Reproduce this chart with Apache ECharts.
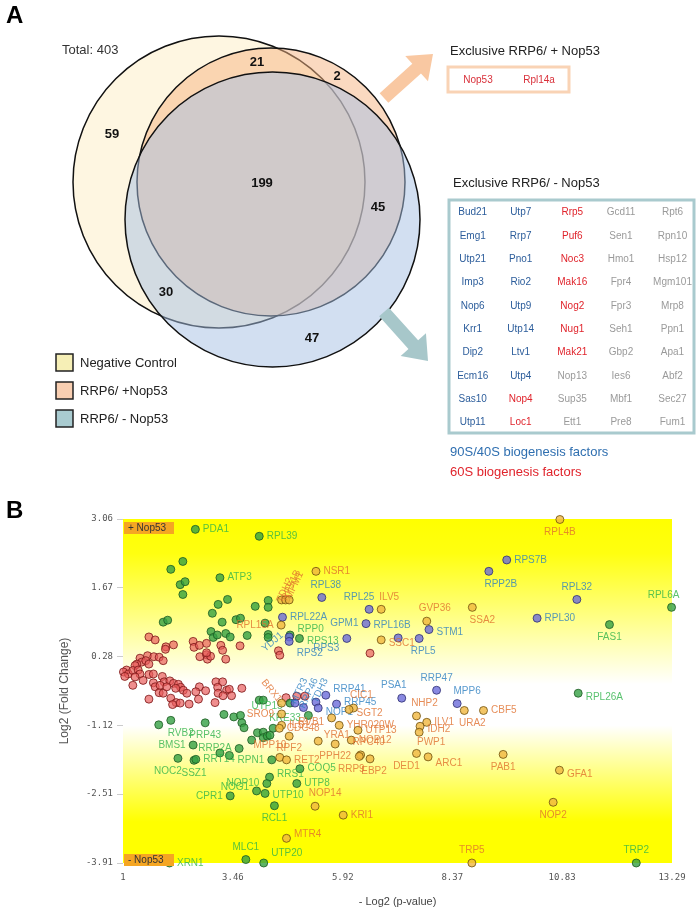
<!DOCTYPE html>
<html><head><meta charset="utf-8">
<script src="https://cdn.jsdelivr.net/npm/echarts@6/dist/echarts.min.js"></script>
<style>html,body{margin:0;padding:0;background:#fff}#c{width:696px;height:908px}</style>
</head><body><div id="c"></div>
<script>
// ---------- Panel A data ----------
const vennTotal = 403;
const vennLabels = ['21','2','59','199','45','30','47'];
const vennLegend = ['Negative Control','RRP6/ +Nop53','RRP6/ - Nop53'];
const plusNop53Genes = ['Nop53','Rpl14a'];
const minusNop53Cols = [
  ['Bud21','Emg1','Utp21','Imp3','Nop6','Krr1','Dip2','Ecm16','Sas10','Utp11'],
  ['Utp7','Rrp7','Pno1','Rio2','Utp9','Utp14','Ltv1','Utp4','Nop4','Loc1'],
  ['Rrp5','Puf6','Noc3','Mak16','Nog2','Nug1','Mak21','Nop13','Sup35','Ett1'],
  ['Gcd11','Sen1','Hmo1','Fpr4','Fpr3','Seh1','Gbp2','Ies6','Mbf1','Pre8'],
  ['Rpt6','Rpn10','Hsp12','Mgm101','Mrp8','Ppn1','Apa1','Abf2','Sec27','Fum1']
];
const minusNop53Class = [
  'bbbbbbbbbb',
  'bbbbbbbbrr',
  'rrrrrrrggg',
  'gggggggggg',
  'gggggggggg'
];
const classLegend = ['90S/40S biogenesis factors','60S biogenesis factors'];

// ---------- Panel B data ----------
const xTicks = [1, 3.46, 5.92, 8.37, 10.83, 13.29];
const yTicks = [-3.91, -2.51, -1.12, 0.28, 1.67, 3.06];

const greenPoints = [
 ['PDA1',2.62,2.85],['RPL39',4.05,2.71],['ATP3',3.17,1.87],['RPP0',4.74,0.71],['RPS13',4.95,0.64],
 ['RVB2',2.07,-1.02],['PRP43',2.84,-1.07],['BMS1',2.57,-1.52],['NOC2',2.23,-1.79],['SSZ1',2.59,-1.83],
 ['RRT14',2.63,-1.81],['RRP2A',3.60,-1.59],['RPN1',4.33,-1.82],['COQ5',4.96,-2.00],['RRS1',4.28,-2.17],
 ['NOP10',4.22,-2.30],['UTP8',4.89,-2.30],['NOG1',3.99,-2.45],['UTP10',4.18,-2.50],['CPR1',3.40,-2.55],
 ['RCL1',4.39,-2.75],['XRN1',2.04,-3.91],['MLC1',3.75,-3.84],['UTP20',4.15,-3.91],['TRP2',12.49,-3.91],
 ['FAS1',11.89,0.92],['RPL6A',13.28,1.27],['RPL26A',11.19,-0.47],['UTP15',4.74,-0.67],['KRE33',5.15,-0.92],
 ['',2.34,2.20],['',2.07,2.04],['',2.28,1.73],['',2.39,1.79],['',2.34,1.53],['',1.90,0.97],['',2.00,1.01],
 ['',3.34,1.43],['',3.13,1.33],['',3.00,1.15],['',3.22,0.97],['',2.97,0.78],['',3.02,0.66],['',3.11,0.71],
 ['',3.30,0.74],['',3.53,1.02],['',3.63,1.05],['',3.96,1.29],['',4.25,1.41],['',4.25,1.27],['',4.18,0.95],
 ['',3.40,0.67],['',3.78,0.70],['',4.25,0.72],['',4.25,0.66],['',4.05,-0.61],['',4.14,-0.61],['',3.26,-0.90],
 ['',1.80,-1.11],['',3.48,-0.95],['',3.63,-0.92],['',3.66,-1.07],['',3.71,-1.17],['',3.88,-1.42],['',4.01,-1.27],
 ['',4.14,-1.26],['',4.14,-1.37],['',4.23,-1.34],['',4.29,-1.32],['',4.36,-1.18],['',3.38,-1.73],['',3.17,-1.68]
];

const redPoints = [
 [1.58,0.67],[1.72,0.61],[1.96,0.47],[2.13,0.51],[1.95,0.42],[2.57,0.58],[2.59,0.46],[2.71,0.50],[2.87,0.54],
 [2.72,0.27],[2.87,0.31],[2.89,0.22],[2.96,0.28],[3.19,0.50],[3.23,0.40],[3.30,0.22],[1.55,0.29],[1.69,0.27],
 [1.81,0.26],[1.90,0.19],[1.38,0.24],[1.42,0.16],[1.31,0.12],[1.27,0.09],[1.51,0.19],[1.58,0.12],[1.08,0.00],
 [1.01,-0.04],[1.12,-0.08],[1.04,-0.13],[1.22,-0.01],[1.34,0.00],[1.38,-0.08],[1.27,-0.14],[1.22,-0.31],
 [1.45,-0.21],[1.58,-0.09],[1.68,-0.26],[1.72,-0.34],[1.88,-0.13],[1.92,-0.24],[2.05,-0.22],[2.13,-0.27],
 [2.24,-0.29],[2.29,-0.35],[2.35,-0.41],[2.43,-0.47],[2.18,-0.37],[1.81,-0.46],[1.90,-0.47],[2.07,-0.57],
 [2.19,-0.66],[2.28,-0.67],[2.11,-0.70],[1.58,-0.59],[2.48,-0.69],[2.69,-0.59],[2.71,-0.34],[2.85,-0.42],
 [3.06,-0.66],[3.08,-0.24],[3.23,-0.24],[3.12,-0.35],[3.13,-0.47],[3.32,-0.41],[1.68,-0.08],[1.83,-0.31],
 [1.98,-0.34],[3.62,0.49],[4.48,0.39],[4.51,0.30],[6.53,0.34],[3.38,-0.39],[3.66,-0.37],[3.43,-0.52],
 [4.65,-0.56],[4.89,-0.53],[5.07,-0.53],[2.87,0.35],[2.63,-0.44],[3.24,-0.52]
];

const purplePoints = [
 ['RPS7B',9.59,2.23],['RPP2B',9.19,2.00],['RPL32',11.16,1.43],['RPL30',10.27,1.05],['RPL38',5.45,1.47],
 ['RPL25',6.51,1.23],['RPL22A',4.57,1.07],['GPM1',6.44,0.94],['YDJ1',4.72,0.67],['RPS2',4.72,0.58],
 ['RPS3',6.01,0.64],['RPL16B',7.16,0.65],['STM1',7.85,0.82],['RPL5',7.63,0.64],['PSA1',7.24,-0.57],
 ['RRP47',8.02,-0.41],['MPP6',8.48,-0.68],['RRP41',5.54,-0.51],['RRP45',5.78,-0.69],['MTR3',4.85,-0.67],
 ['RRP46',5.04,-0.76],['TDH3',5.32,-0.65],['NOP1',5.37,-0.77]
];

const orangePoints = [
 ['RPL4B',10.78,3.05],['NSR1',5.32,2.00],['TDH2',4.55,1.42],['RPS1B',4.64,1.42],['MPM1',4.72,1.42],
 ['RPL15A',4.54,0.91],['ILV5',6.78,1.23],['SSC1',6.78,0.61],['SSA2',8.82,1.27],['GVP36',7.80,0.99],
 ['BRX1',4.55,-0.67],['CIC1',6.16,-0.77],['SGT2',6.06,-0.80],['SRO9',4.55,-0.89],['RVB1',5.67,-0.97],
 ['YHR020W',5.84,-1.12],['ILS1',4.55,-1.12],['CDC48',4.50,-1.18],['RPF2',4.72,-1.34],['UTP13',6.26,-1.22],
 ['NOP12',6.11,-1.42],['YRA1',5.37,-1.44],['PPH22',5.75,-1.50],['RPC40',6.32,-1.72],['RRP9',6.29,-1.75],
 ['EBP2',6.53,-1.80],['MPP10',4.51,-1.77],['RET2',4.66,-1.82],['NOP14',5.30,-2.76],['KRI1',5.93,-2.94],
 ['MTR4',4.66,-3.41],['TRP5',8.81,-3.91],['NHP2',7.57,-0.93],['URA2',8.64,-0.82],['CBF5',9.07,-0.82],
 ['ILV1',7.80,-1.06],['IDH2',7.65,-1.14],['PWP1',7.63,-1.26],['DED1',7.57,-1.69],['ARC1',7.83,-1.76],
 ['PAB1',9.51,-1.71],['GFA1',10.77,-2.03],['NOP2',10.63,-2.68]
];

// label placement (style only): [position, dx, dy, rotate]
const labelPlace = {
 RPL4B:['bottom'], RPP2B:['bottom',12,0], RPL32:['top'], RPL6A:['top',-8,0], FAS1:['bottom'],
 SSA2:['bottom',10,0], GVP36:['top',8,0], STM1:['right',0,3], RPL5:['bottom',4,0], RPL16B:['top',-6,0],
 ILV5:['top',8,0], SSC1:['right',0,3], RPL25:['top',-10,0], GPM1:['left'], RPS3:['left',0,10], RPL38:['top',4,0],
 RPL15A:['left'], RPP0:['right',0,-6], RPS13:['right',0,3], YDJ1:['left',2,-2,40], RPS2:['right',0,12],
 TDH2:['right',-6,-8,65], RPS1B:['right',-4,-8,65], MPM1:['right',-2,-8,65], MTR3:['right',-4,-8,65],
 RRP46:['right',-4,-8,65], TDH3:['right',-4,-8,65], BRX1:['left',2,-6,-50], RRP41:['right',0,-6],
 RRP45:['right',0,-2], NOP1:['right',0,4], PSA1:['top',-8,0], RRP47:['top'], MPP6:['top',10,0],
 RPL26A:['right',0,4], NHP2:['top',8,0], URA2:['bottom',8,0], IDH2:['right',0,3], PWP1:['bottom',12,-2],
 DED1:['bottom',-10,0], ARC1:['right',0,6], PAB1:['bottom'], GFA1:['right',0,4], NOP2:['bottom'], TRP5:['top'],
 TRP2:['top'], NOP14:['top',10,0], MTR4:['right',0,-4], MLC1:['top'], UTP20:['right',0,-10], RCL1:['bottom'],
 CPR1:['left'], NOG1:['left',0,-4], UTP10:['right',0,2], NOP10:['left'], RRS1:['right',0,-3], RPN1:['left'],
 MPP10:['top',-10,0], RPF2:['bottom'], SRO9:['left'], KRE33:['left',0,3], UTP15:['left',0,3], RVB1:['left',0,4],
 CIC1:['top',8,0], SGT2:['right',0,4], YRA1:['right',-2,-6], PPH22:['bottom'], RPC40:['top',8,0],
 RRP9:['bottom',-8,0], EBP2:['bottom',4,0], RVB2:['bottom',10,0], PRP43:['bottom'], BMS1:['left'],
 NOC2:['bottom',-10,0], SSZ1:['bottom'], RRP2A:['left']
};

const chart = echarts.init(document.getElementById('c'), null, {renderer:'canvas'});
const FONT = '"Liberation Sans", Arial, sans-serif';

function mkSeries(list, fill, stroke, labelColor, z){
  return {
    type:'scatter', symbolSize:8, clip:false, z:z,
    itemStyle:{color:fill, borderColor:stroke, borderWidth:1},
    label:{show:false},
    emphasis:{disabled:true},
    data:list.map(d=>{
      const name = typeof d[0]==='string' ? d[0] : '';
      const v = typeof d[0]==='string' ? [d[1],d[2]] : [d[0],d[1]];
      const o = {value:v, name:name};
      if(name){
        const p = labelPlace[name] || ['right',0,0,0];
        o.label = {show:true, formatter:name, position:p[0], offset:[p[1]||0,p[2]||0], rotate:p[3]||0,
          color:labelColor, fontSize:10, fontFamily:FONT, distance:3};
      }
      return o;
    })
  };
}

function arrowPts(x1,y1,x2,y2,sw,hl,hw){
  const dx=x2-x1, dy=y2-y1, L=Math.hypot(dx,dy), ux=dx/L, uy=dy/L, nx=-uy, ny=ux;
  const bx=x2-ux*hl, by=y2-uy*hl;
  return [[x1+nx*sw/2,y1+ny*sw/2],[bx+nx*sw/2,by+ny*sw/2],[bx+nx*hw/2,by+ny*hw/2],[x2,y2],
          [bx-nx*hw/2,by-ny*hw/2],[bx-nx*sw/2,by-ny*sw/2],[x1-nx*sw/2,y1-ny*sw/2]];
}

const g = [];
function txt(t,x,y,o){ g.push({type:'text', silent:true, z:o.z||10, style:Object.assign({text:t,x:x,y:y,font:'12px '+FONT,fill:'#222',textAlign:'left',textVerticalAlign:'middle'},o.style||{})}); }

// Panel A
txt('A',6,16,{style:{font:'bold 24px '+FONT,fill:'#000'}});
txt('B',6,511,{style:{font:'bold 24px '+FONT,fill:'#000'}});
txt('Total: '+vennTotal,62,50,{style:{font:'13px '+FONT,fill:'#333'}});
g.push({type:'circle',silent:true,z:1,shape:{cx:219,cy:182,r:146},style:{fill:'#fef6e1',stroke:'#111',lineWidth:1.5}});
g.push({type:'circle',silent:true,z:2,shape:{cx:271,cy:182,r:134},style:{fill:'rgba(245,180,130,0.5)',stroke:'#111',lineWidth:1.5}});
g.push({type:'circle',silent:true,z:3,shape:{cx:272.5,cy:219.5,r:147.5},style:{fill:'rgba(165,192,228,0.5)',stroke:'#111',lineWidth:1.5}});
const vennPos = [[257,62],[337,76],[112,134],[262,183],[378,207],[166,292],[312,338]];
vennLabels.forEach((t,i)=>txt(t,vennPos[i][0],vennPos[i][1],{style:{font:'bold 13px '+FONT,fill:'#111',textAlign:'center'}}));
g.push({type:'polygon',silent:true,z:4,shape:{points:arrowPts(384,98,433,54,13,22,34)},style:{fill:'#f9c8a2'}});
g.push({type:'polygon',silent:true,z:4,shape:{points:arrowPts(384,312,428,361,13,22,34)},style:{fill:'#a7c7ca'}});
// Venn legend
const swCol = ['#f6efb6','#f9cfb2','#a9cbd0'];
vennLegend.forEach((t,i)=>{
  const y = 363 + i*28;
  g.push({type:'rect',silent:true,z:5,shape:{x:56,y:y-9,width:17,height:17},style:{fill:swCol[i],stroke:'#222',lineWidth:1.5}});
  txt(t,80,y,{style:{font:'13px '+FONT,fill:'#222'}});
});
// Tables
txt('Exclusive RRP6/ + Nop53',450,51,{style:{font:'13px '+FONT,fill:'#222'}});
g.push({type:'rect',silent:true,z:5,shape:{x:448,y:67,width:121,height:25},style:{fill:'#fff',stroke:'#f9d3b5',lineWidth:3}});
plusNop53Genes.forEach((t,i)=>txt(t,[478,539][i],80,{style:{font:'10px '+FONT,fill:'#d9303a',textAlign:'center'}}));
txt('Exclusive RRP6/ - Nop53',453,183,{style:{font:'13px '+FONT,fill:'#222'}});
g.push({type:'rect',silent:true,z:5,shape:{x:449,y:200,width:245,height:233},style:{fill:'#fff',stroke:'#a9cace',lineWidth:3}});
const colX = [472.7,520.7,572.3,621,672.5];
const clsColor = {b:'#2c5d9b', r:'#e0242c', g:'#9a9a9a'};
minusNop53Cols.forEach((col,ci)=>col.forEach((t,ri)=>{
  txt(t,colX[ci],212.7+ri*23.33,{style:{font:'10px '+FONT,fill:clsColor[minusNop53Class[ci][ri]],textAlign:'center'}});
}));
txt(classLegend[0],450,452.5,{style:{font:'13px '+FONT,fill:'#2f6fb0'}});
txt(classLegend[1],450,472,{style:{font:'13px '+FONT,fill:'#e0242c'}});
// Nop53 corner tags in panel B
g.push({type:'rect',silent:true,z:20,shape:{x:124,y:522,width:50,height:12},style:{fill:'#f5a623'}});
txt('+ Nop53',128,528,{z:21,style:{font:'10px '+FONT,fill:'#333'}});
g.push({type:'rect',silent:true,z:20,shape:{x:124,y:854,width:50,height:12},style:{fill:'#f5a623'}});
txt('- Nop53',128,860,{z:21,style:{font:'10px '+FONT,fill:'#333'}});

const bg = new echarts.graphic.LinearGradient(0,0,0,1,[
  {offset:0,color:'#ffff00'},{offset:0.1,color:'#ffff10'},{offset:0.48,color:'#ffffff'},
  {offset:0.6,color:'#ffffff'},{offset:0.88,color:'#ffff00'},{offset:1,color:'#ffff00'}]);

chart.setOption({
  animation:false,
  backgroundColor:'#fff',
  grid:{left:123,right:24,top:519,bottom:39,show:true,borderWidth:0,backgroundColor:bg},
  xAxis:{type:'value',min:1,max:13.29,
    name:'- Log2 (p-value)',nameLocation:'middle',nameGap:33,
    nameTextStyle:{fontSize:11,fontFamily:FONT,color:'#444'},
    axisLine:{show:false},axisTick:{show:false},splitLine:{show:false},
    axisLabel:{customValues:xTicks,fontSize:9,fontFamily:'"DejaVu Sans Mono","Liberation Mono",monospace',color:'#555',margin:10,
      formatter:v=>String(v)}},
  yAxis:{type:'value',min:-3.91,max:3.06,
    name:'Log2 (Fold Change)',nameLocation:'middle',nameGap:52,
    nameTextStyle:{fontSize:12,fontFamily:FONT,color:'#555'},
    axisLine:{show:false},splitLine:{show:false},
    axisTick:{show:true,customValues:yTicks,length:6,lineStyle:{color:'#ccc'}},
    axisLabel:{customValues:yTicks,fontSize:9,fontFamily:'"DejaVu Sans Mono","Liberation Mono",monospace',color:'#555',margin:10,
      formatter:v=>String(v)}},
  graphic:g,
  series:[
    mkSeries(redPoints,'rgba(232,90,90,0.85)','#7a1515','#c00',5),
    mkSeries(greenPoints,'#35a043','#1d5a22','#2fb34a',6),
    mkSeries(purplePoints,'#6c6cd9','#2e2e70','#2d7fc0',7),
    mkSeries(orangePoints,'#f0b73e','#6e500e','#e0702e',8)
  ]
});
</script></body></html>
